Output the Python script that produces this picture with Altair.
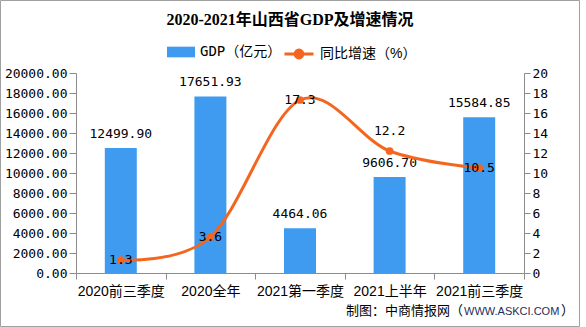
import altair as alt
import pandas as pd

categories = ["2020前三季度", "2020全年", "2021第一季度", "2021上半年", "2021前三季度"]
gdp = [12499.90, 17651.93, 4464.06, 9606.70, 15584.85]
growth = [1.3, 3.6, 17.3, 12.2, 10.5]
gdp_ticks = [0, 2000, 4000, 6000, 8000, 10000, 12000, 14000, 16000, 18000, 20000]
growth_ticks = [0, 2, 4, 6, 8, 10, 12, 14, 16, 18, 20]
bar_series = "GDP（亿元）"
line_series = "同比增速（%）"
title_text = "2020-2021年山西省GDP及增速情况"
source_a = "制图：中商情报网（"
source_b = "WWW.ASKCI.COM"
source_c = "）"

df = pd.DataFrame({
    "cat": categories,
    "gdp": gdp,
    "growth": growth,
    "s_bar": [bar_series] * len(categories),
    "s_line": [line_series] * len(categories),
})

BLUE = "#3E9BF0"
ORANGE = "#F4661F"
AXIS_GRAY = "#8C8C8C"
NUM_FONT = "DejaVu Sans Mono"
CJK = "Liberation Sans, Noto Sans CJK SC"
MIX = "DejaVu Sans Mono, Noto Sans CJK SC"

x_enc = alt.X(
    "cat:N", sort=categories, title=None,
    scale=alt.Scale(paddingInner=0, paddingOuter=0),
    axis=alt.Axis(labelAngle=0, tickBand="extent", domainColor=AXIS_GRAY, tickColor=AXIS_GRAY,
                  tickSize=6, labelFont=CJK, labelFontSize=14, labelColor="#000",
                  labelPadding=5, grid=False, labelOverlap=False),
)

y_gdp = alt.Y(
    "gdp:Q", title=None, scale=alt.Scale(domain=[0, 20000], nice=False),
    axis=alt.Axis(values=gdp_ticks, format=".2f", domainColor=AXIS_GRAY, tickColor=AXIS_GRAY,
                  tickSize=7, labelFont=NUM_FONT, labelFontSize=13, labelColor="#000",
                  labelPadding=2, grid=False, labelOverlap=False, labelFlush=False),
)

y_growth = alt.Y(
    "growth:Q", title=None, scale=alt.Scale(domain=[0, 20], nice=False),
    axis=alt.Axis(orient="right", values=growth_ticks, format="d", domainColor=AXIS_GRAY,
                  tickColor=AXIS_GRAY, tickSize=6, labelFont=NUM_FONT, labelFontSize=13,
                  labelColor="#000", labelPadding=2, grid=False, labelOverlap=False,
                  labelFlush=False),
)

base = alt.Chart(df)

bar_sym = "M-1,-0.38L1,-0.38L1,0.38L-1,0.38Z"
line_sym = "M-1,0L1,0M0.27,0A0.27,0.27,0,1,1,-0.27,0A0.27,0.27,0,1,1,0.27,0Z"

bars = base.mark_bar(width=alt.RelativeBandSize(0.357)).encode(
    x=x_enc, y=y_gdp,
    fill=alt.Fill("s_bar:N", scale=alt.Scale(range=[BLUE]),
                  legend=alt.Legend(orient="none", legendX=91, legendY=-35, title=None,
                                    symbolType=bar_sym, symbolSize=784, symbolStrokeWidth=0,
                                    labelFont=MIX, labelFontSize=14, labelColor="#000",
                                    labelOffset=5)),
)
bar_text = base.mark_text(baseline="bottom", dy=-7, font=NUM_FONT, fontSize=13, color="#000").encode(
    x=x_enc, y=y_gdp, text=alt.Text("gdp:Q", format=".2f"),
)

line = base.mark_line(interpolate="cardinal", strokeWidth=3).encode(
    x=x_enc, y=y_growth,
    stroke=alt.Stroke("s_line:N", scale=alt.Scale(range=[ORANGE]),
                      legend=alt.Legend(orient="none", legendX=207, legendY=-35, title=None,
                                        symbolType=line_sym, symbolSize=841, symbolStrokeWidth=3,
                                        symbolFillColor=ORANGE,
                                        labelFont=CJK, labelFontSize=14, labelColor="#000",
                                        labelOffset=5)),
)
pts = base.mark_circle(size=60, color=ORANGE, opacity=1).encode(
    x=x_enc, y=y_growth,
)
line_text_mid = base.transform_filter(alt.datum.cat != "2021上半年").mark_text(
    baseline="middle", font=NUM_FONT, fontSize=13, color="#000").encode(
    x=x_enc, y=y_growth, text=alt.Text("growth:Q", format=".1f"),
)
line_text_up = base.transform_filter(alt.datum.cat == "2021上半年").mark_text(
    baseline="middle", dy=-20, font=NUM_FONT, fontSize=13, color="#000").encode(
    x=x_enc, y=y_growth, text=alt.Text("growth:Q", format=".1f"),
)

left = alt.layer(bars, bar_text)
right = alt.layer(line, pts, line_text_mid, line_text_up)

title = alt.Chart(alt.Data(values=[{"t": title_text}])).mark_text(
    align="center", baseline="middle", font="Liberation Serif, Noto Sans CJK SC", fontSize=16,
    fontWeight="bold", color="#000").encode(
    x=alt.value(214), y=alt.value(-53), text="t:N")
src1 = alt.Chart(alt.Data(values=[{"t": source_a}])).mark_text(
    align="right", baseline="middle", font=CJK, fontSize=13, color="#000").encode(
    x=alt.value(387), y=alt.value(238), text="t:N")
src2 = alt.Chart(alt.Data(values=[{"t": source_b}])).mark_text(
    align="left", baseline="middle", font="Liberation Sans", fontSize=11, color="#1F2D5A").encode(
    x=alt.value(388), y=alt.value(239), text="t:N")
src3 = alt.Chart(alt.Data(values=[{"t": source_c}])).mark_text(
    align="right", baseline="middle", font=CJK, fontSize=13, color="#000").encode(
    x=alt.value(498), y=alt.value(238), text="t:N")
border = alt.Chart(alt.Data(values=[{"t": 1}])).mark_rect(
    fill="transparent", stroke="#A0A0A0", strokeWidth=1).encode(
    x=alt.value(-75.5), x2=alt.value(503.5), y=alt.value(-72.5), y2=alt.value(253.5))

chart = alt.layer(left, right, title, src1, src2, src3, border).resolve_scale(
    y="independent", fill="independent", stroke="independent"
).properties(
    width=448, height=200,
    padding={"left": 76, "top": 73, "right": 62, "bottom": 54},
    autosize="none",
    background="white",
).configure_view(stroke=None)

chart.save("out.html", embed_options={"renderer": "svg", "actions": False})
